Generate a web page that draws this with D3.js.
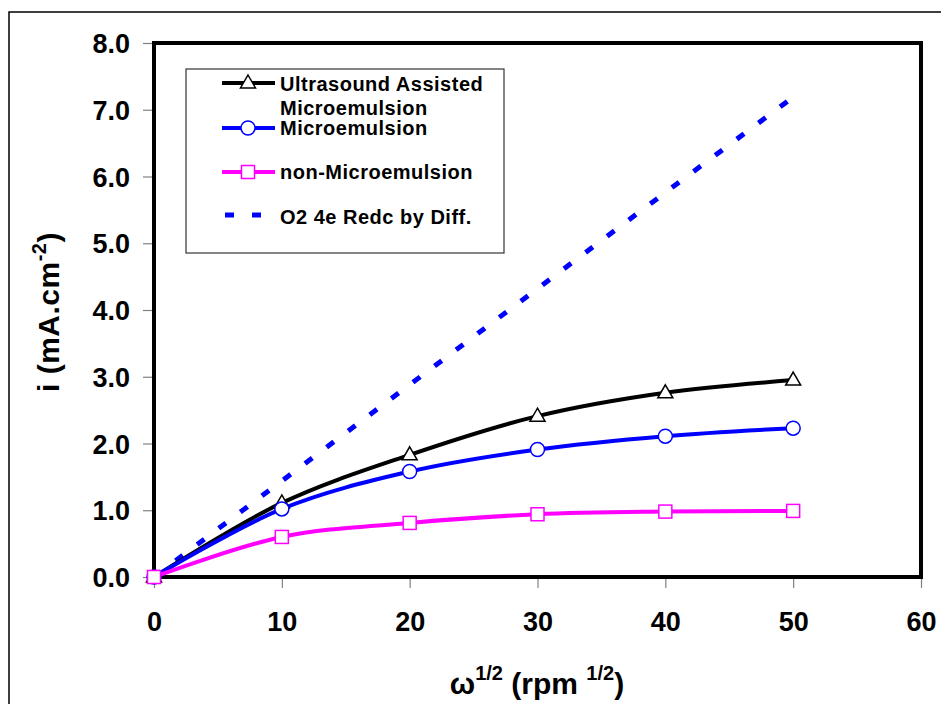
<!DOCTYPE html>
<html><head><meta charset="utf-8">
<script src="https://cdn.jsdelivr.net/npm/d3@7"></script>
<style>body{margin:0;background:#fff}svg{display:block}text{font-family:"Liberation Sans",Arial,sans-serif;font-weight:bold}</style>
</head><body>
<script>
const xValues = [0, 10, 20, 30, 40, 50];
const ultrasound = [0, 1.11, 1.83, 2.41, 2.76, 2.95];
const microemulsion = [0, 1.02, 1.58, 1.91, 2.11, 2.23];
const nonMicro = [0, 0.60, 0.81, 0.94, 0.98, 0.99];
const diffusion = [0, 1.44, 2.88, 4.32, 5.76, 7.19];
const xTicks = [0, 10, 20, 30, 40, 50, 60];
const yTicks = [0, 1, 2, 3, 4, 5, 6, 7, 8];
const legendLabels = ["Ultrasound Assisted", "Microemulsion", "Microemulsion", "non-Microemulsion", "O2 4e Redc by Diff."];

const W = 941, H = 704;
const svg = d3.select("body").append("svg").attr("width", W).attr("height", H);

// outer border
svg.append("rect").attr("x", 9).attr("y", 12).attr("width", 1000).attr("height", 1000)
  .attr("fill", "none").attr("stroke", "#000").attr("stroke-width", 1.5);

const x = d3.scaleLinear().domain([0, 60]).range([154, 921]);
const y = d3.scaleLinear().domain([0, 8]).range([577, 43]);

// ticks
const xAxis = d3.axisBottom(x).tickValues(xTicks).tickSize(11).tickPadding(24).tickFormat(d3.format("d"));
const gx = svg.append("g").attr("transform", "translate(0,577)").call(xAxis);
const yAxis = d3.axisLeft(y).tickValues(yTicks).tickSize(11).tickPadding(13).tickFormat(d3.format(".1f"));
const gy = svg.append("g").attr("transform", "translate(154,0)").call(yAxis);
[gx, gy].forEach(g => {
  g.select(".domain").remove();
  g.selectAll(".tick line").attr("stroke", "#808080").attr("stroke-width", 1.2);
  g.selectAll(".tick text").attr("fill", "#000").style("font-size", "27px")
    .style("font-family", "Liberation Sans, Arial, sans-serif").style("font-weight", "bold");
});
gy.selectAll(".tick text").attr("dy", "0.36em");

// plot frame
svg.append("rect").attr("x", x(0)).attr("y", y(8)).attr("width", x(60) - x(0)).attr("height", y(0) - y(8))
  .attr("fill", "none").attr("stroke", "#000").attr("stroke-width", 4);

// series
const line = d3.line().x((d, i) => x(xValues[i])).y(d => y(d)).curve(d3.curveCatmullRom.alpha(0.5));
const straight = d3.line().x((d, i) => x(xValues[i])).y(d => y(d));

svg.append("path").attr("d", straight(diffusion)).attr("fill", "none").attr("stroke", "#0000FF")
  .attr("stroke-width", 5).attr("stroke-dasharray", "9,18");

const series = [
  {vals: ultrasound, color: "#000000", marker: "tri"},
  {vals: microemulsion, color: "#0000FF", marker: "circ"},
  {vals: nonMicro, color: "#FF00FF", marker: "sq"}
];
series.forEach(s => {
  svg.append("path").attr("d", line(s.vals)).attr("fill", "none").attr("stroke", s.color).attr("stroke-width", 4);
});
function marker(g, type, cx, cy, color) {
  if (type === "tri") {
    g.append("path").attr("d", `M${cx},${cy-8}L${cx+7.5},${cy+5}L${cx-7.5},${cy+5}Z`)
      .attr("fill", "#fff").attr("stroke", color).attr("stroke-width", 1.5);
  } else if (type === "circ") {
    g.append("circle").attr("cx", cx).attr("cy", cy).attr("r", 7)
      .attr("fill", "#fff").attr("stroke", color).attr("stroke-width", 1.5);
  } else {
    g.append("rect").attr("x", cx - 6.5).attr("y", cy - 6.5).attr("width", 13).attr("height", 13)
      .attr("fill", "#fff").attr("stroke", color).attr("stroke-width", 1.5);
  }
}
series.forEach(s => {
  const g = svg.append("g");
  s.vals.forEach((v, i) => marker(g, s.marker, x(xValues[i]), y(v), s.color));
});

// legend
const lg = svg.append("g");
lg.append("rect").attr("x", 186).attr("y", 69).attr("width", 318).attr("height", 184)
  .attr("fill", "#fff").attr("stroke", "#333").attr("stroke-width", 1.2);
const rows = [
  {ly: 83, color: "#000000", marker: "tri", texts: [[legendLabels[0], 91], [legendLabels[1], 115]]},
  {ly: 128, color: "#0000FF", marker: "circ", texts: [[legendLabels[2], 135]]},
  {ly: 172, color: "#FF00FF", marker: "sq", texts: [[legendLabels[3], 179]]}
];
rows.forEach(r => {
  lg.append("line").attr("x1", 222).attr("x2", 275).attr("y1", r.ly).attr("y2", r.ly)
    .attr("stroke", r.color).attr("stroke-width", 4);
  marker(lg, r.marker, 248, r.ly, r.color);
  r.texts.forEach(t => lg.append("text").attr("x", 280).attr("y", t[1]).style("font-size", "20px")
    .style("letter-spacing", "0.5px").text(t[0]));
});
lg.append("line").attr("x1", 225).attr("x2", 275).attr("y1", 215).attr("y2", 215)
  .attr("stroke", "#0000FF").attr("stroke-width", 5).attr("stroke-dasharray", "9,18");
lg.append("text").attr("x", 280).attr("y", 224).style("font-size", "20px").style("letter-spacing", "0.5px").text(legendLabels[4]);

// axis titles
const xt = svg.append("text").attr("x", 537).attr("y", 694).attr("text-anchor", "middle").style("font-size", "30px");
xt.append("tspan").text("ω");
xt.append("tspan").attr("dy", -14).style("font-size", "20px").text("1/2");
xt.append("tspan").attr("dy", 14).text(" (rpm ");
xt.append("tspan").attr("dy", -14).style("font-size", "20px").text("1/2");
xt.append("tspan").attr("dy", 14).text(")");

const yt = svg.append("text").attr("transform", "translate(59,312) rotate(-90)").attr("text-anchor", "middle")
  .style("font-size", "30px").style("letter-spacing", "0.5px");
yt.append("tspan").text("i (mA.cm");
yt.append("tspan").attr("dy", -13).style("font-size", "20px").text("-2");
yt.append("tspan").attr("dy", 13).text(")");
</script>
</body></html>
